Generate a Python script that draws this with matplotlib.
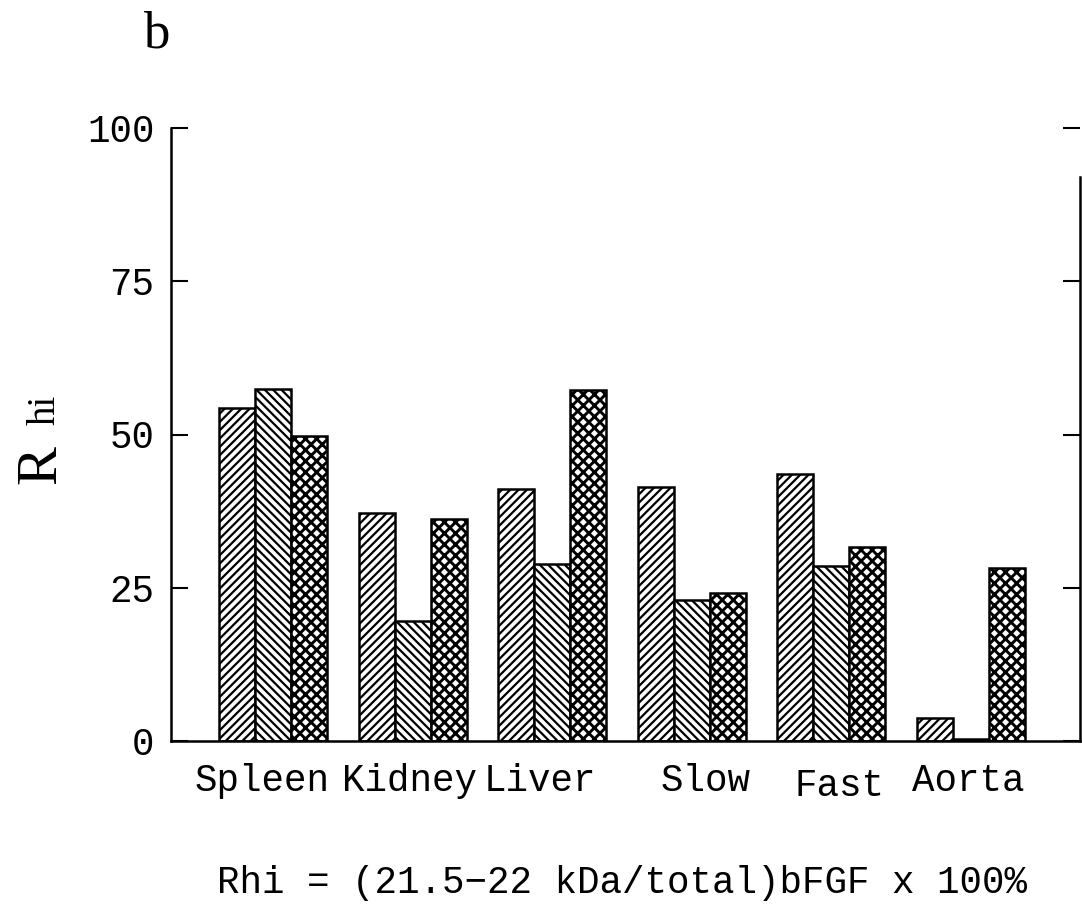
import matplotlib
matplotlib.use("Agg")
import matplotlib.pyplot as plt
import matplotlib.transforms as mtransforms
import numpy as np

categories = ["Spleen", "Kidney", "Liver", "Slow", "Fast", "Aorta"]
series1 = [54.3, 37.2, 41.1, 41.4, 43.6, 3.7]
series2 = [57.5, 19.5, 28.9, 23.0, 28.5, 0.3]
series3 = [49.7, 36.2, 57.2, 24.1, 31.7, 28.3]
yticks = [0, 25, 50, 75, 100]

W, H = 1082, 906
fig = plt.figure(figsize=(W / 100, H / 100), dpi=100)
ax = fig.add_axes([171 / W, 1 - 741 / H, (1080 - 171) / W, (741 - 128) / H])

mono = "Liberation Mono"
serif = "Liberation Serif"

x = np.arange(len(categories))
bw = 0.258
hatches = ["////", "\\\\\\\\", "xxx"]
hlw = [1.6, 1.6, 2.1]
plt.rcParams["hatch.linewidth"] = 1.6
for k, vals in enumerate([series1, series2, series3]):
    bars = ax.bar(x + (k - 1) * bw, vals, width=bw, color="white",
                  edgecolor="black", linewidth=1.8, hatch=hatches[k])
    for b in bars:
        if hasattr(b, "set_hatch_linewidth"):
            b.set_hatch_linewidth(hlw[k])

ax.set_xlim(-0.73, 5.78)
ax.set_ylim(0, 100)
ax.set_yticks(yticks)
ax.set_yticklabels([str(t) for t in yticks], fontfamily=mono, fontsize=27)
ax.set_xticks(x)
ax.set_xticklabels(categories, fontfamily=mono, fontsize=27)
ax.tick_params(axis="x", length=0, pad=16)
ax.tick_params(axis="y", direction="in", length=12, width=1.5, pad=12,
               right=True)

# small per-label shifts (pixels) as in the original typesetting
label_shift = [(-11, 0), (-3, 0), (-12, 0), (14, 0), (8, -5), (-3, 0)]
for lab, (dx, dy) in zip(ax.get_xticklabels(), label_shift):
    lab.set_transform(lab.get_transform() +
                      mtransforms.ScaledTranslation(dx / 100, dy / 100,
                                                    fig.dpi_scale_trans))

for s in ["left", "bottom", "right"]:
    ax.spines[s].set_linewidth(1.8)
ax.spines["top"].set_visible(False)
ax.spines["right"].set_bounds(0, 92)

fig.text(55 / W, 1 - 484 / H, "R", rotation=90, rotation_mode="anchor",
         ha="left", va="baseline", fontfamily=serif, fontsize=42)
fig.text(55 / W, 1 - 425 / H, "hi", rotation=90, rotation_mode="anchor",
         ha="left", va="baseline", fontfamily=serif, fontsize=28)
fig.text(143 / W, 1 - 47 / H, "b", ha="left", va="baseline",
         fontfamily=serif, fontsize=38)
fig.text(622 / W, 1 - 893 / H, "Rhi = (21.5\u221222 kDa/total)bFGF x 100%",
         ha="center", va="baseline", fontfamily=mono, fontsize=27)

fig.savefig("out.png", dpi=100)
